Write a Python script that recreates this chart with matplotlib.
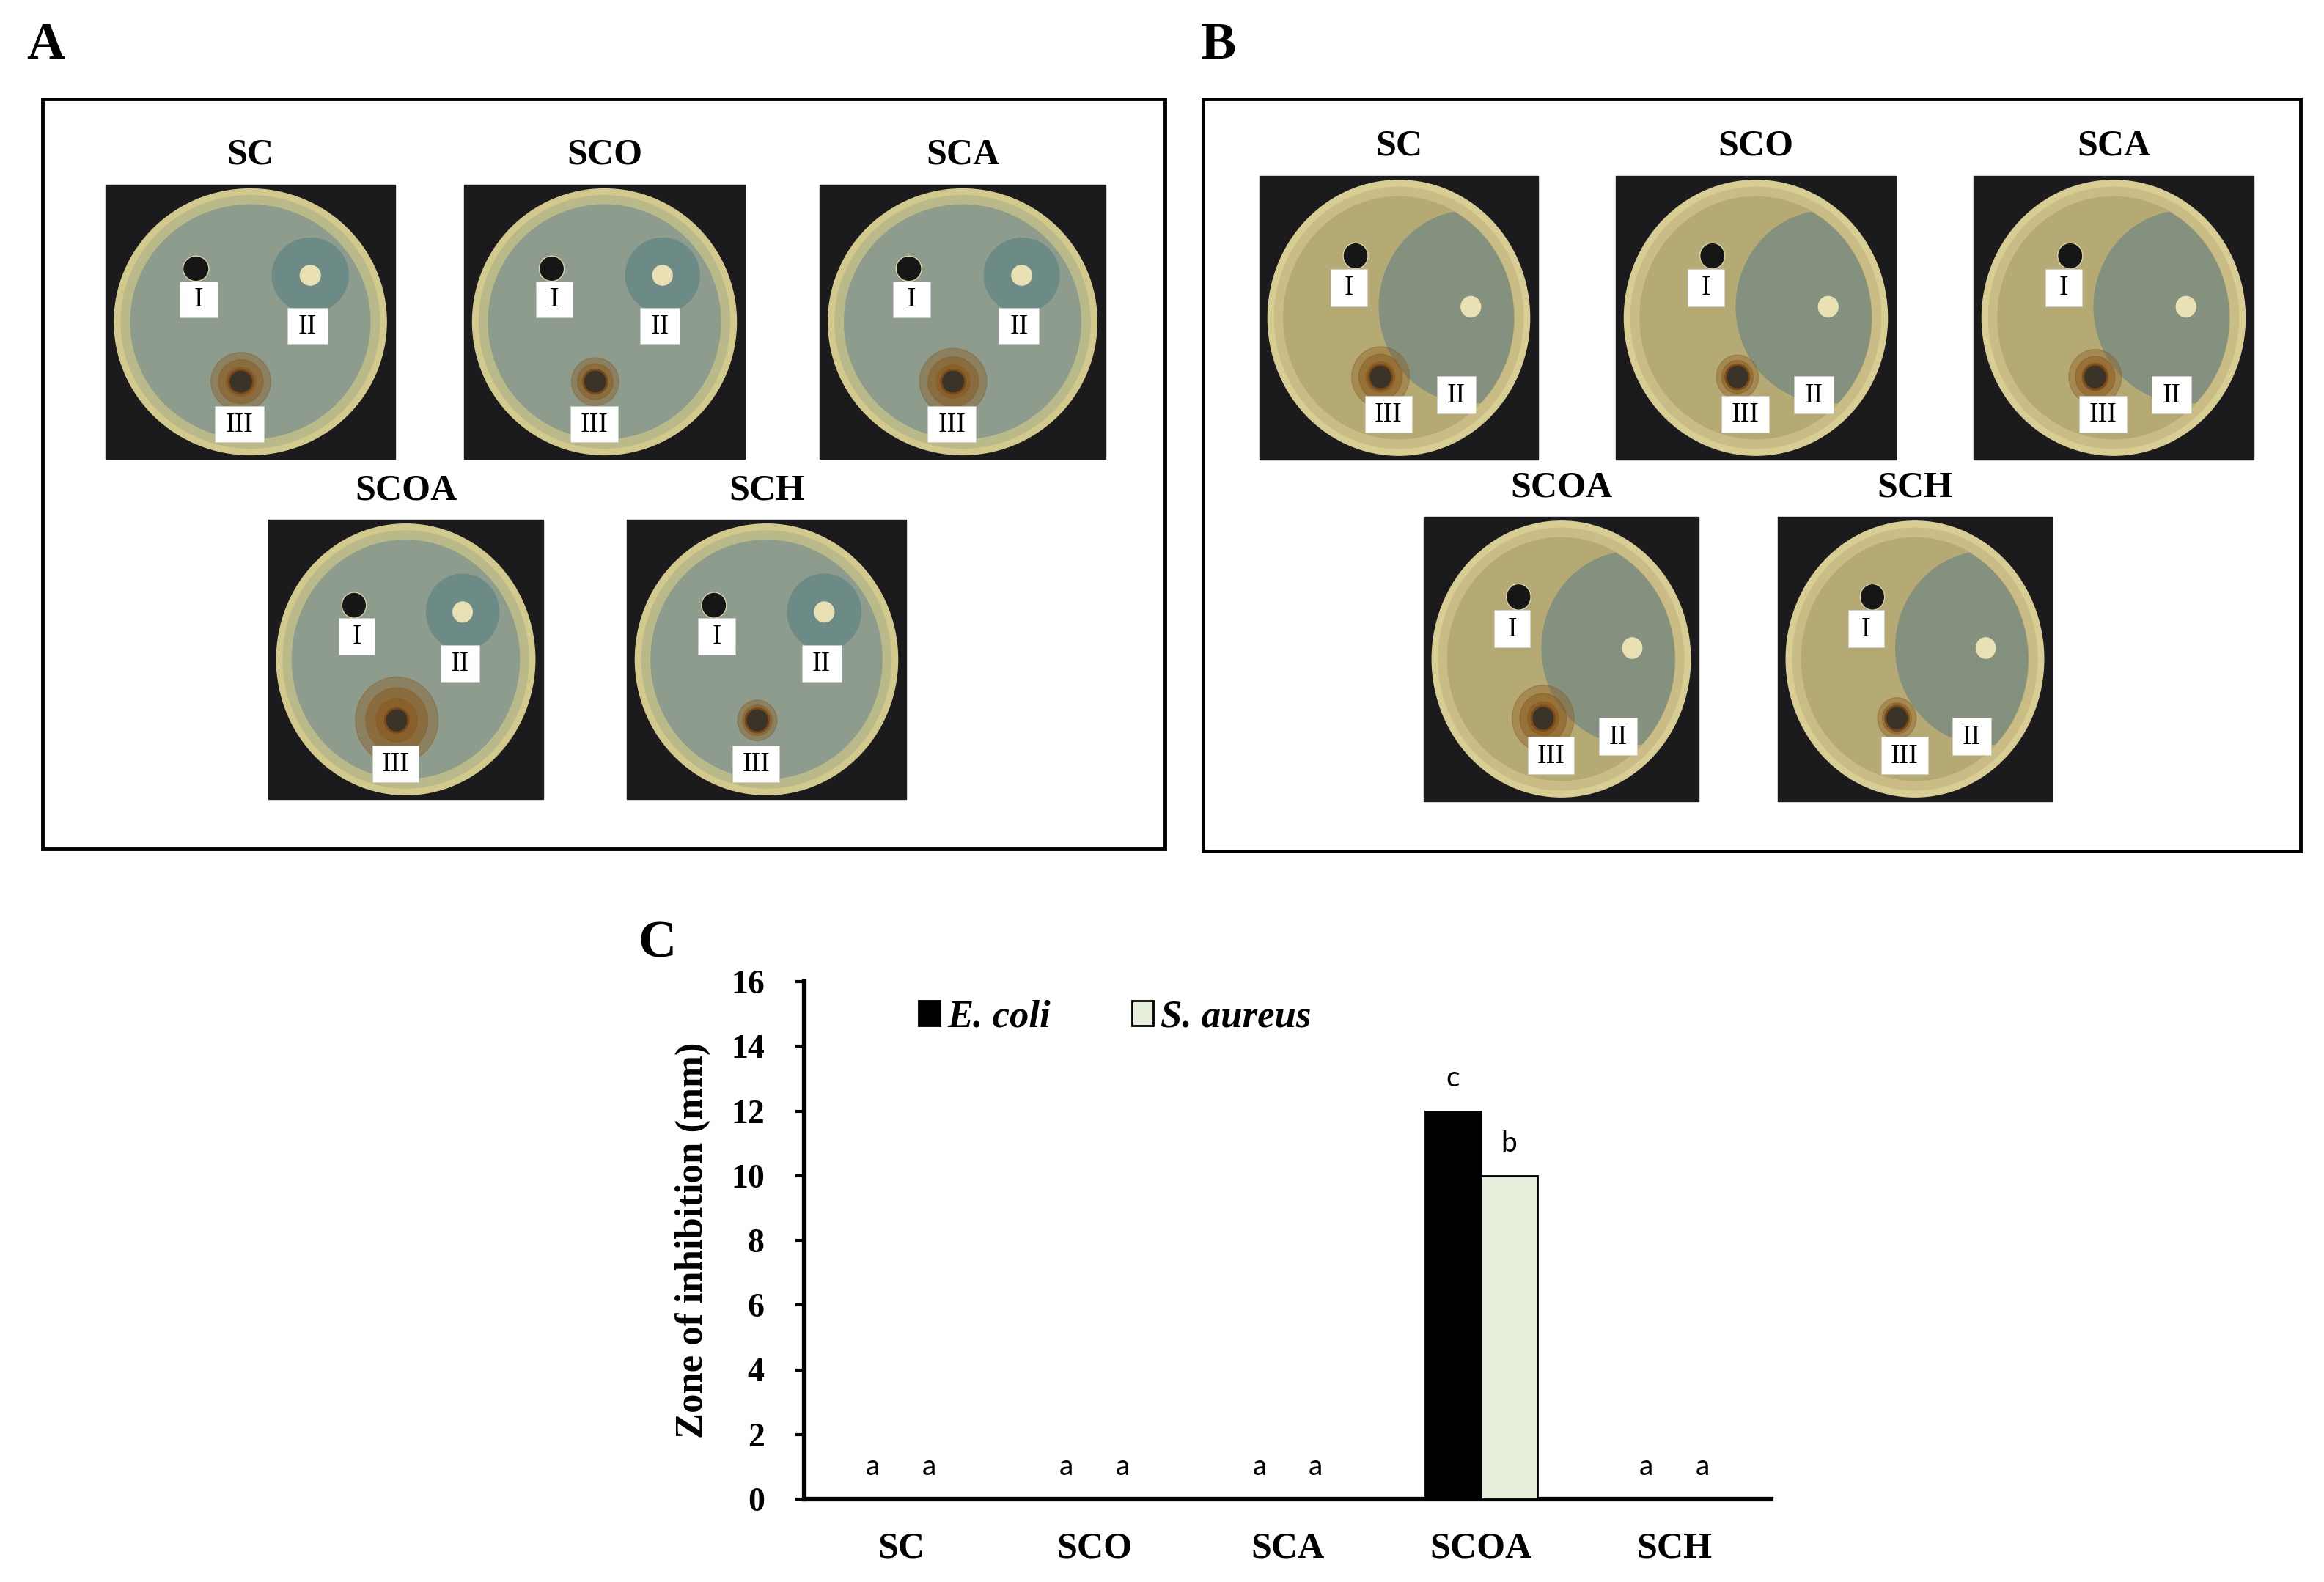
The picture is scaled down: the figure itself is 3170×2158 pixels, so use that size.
"""Antibacterial activity figure: disc-diffusion plates (A, B) and
zone of inhibition bar chart (C)."""

import matplotlib
matplotlib.use("Agg")
import matplotlib.pyplot as plt
from matplotlib.patches import Rectangle, Ellipse, Patch
import numpy as np

plt.rcParams["font.family"] = ["Liberation Serif", "DejaVu Serif"]

# ---- data -------------------------------------------------------------
samples = ["SC", "SCO", "SCA", "SCOA", "SCH"]
ecoli = [0, 0, 0, 12, 0]
saureus = [0, 0, 0, 10, 0]
ecoli_letters = ["a", "a", "a", "c", "a"]
saureus_letters = ["a", "a", "a", "b", "a"]
series_names = ["E. coli", "S. aureus"]
series_colors = ["#000000", "#E6EEDC"]
yticks = [0, 2, 4, 6, 8, 10, 12, 14, 16]

# relative size of the brown halo around well III on each plate
halo_a = [0.22, 0.18, 0.25, 0.32, 0.15]
halo_b = [0.22, 0.16, 0.20, 0.24, 0.15]

W, H = 3170, 2158
fig = plt.figure(figsize=(W / 100, H / 100), dpi=100)

# overlay in pixel coordinates for the photo panels
ov = fig.add_axes([0, 0, 1, 1])
ov.set_xlim(0, W)
ov.set_ylim(H, 0)
ov.axis("off")


def label_box(ax, x, y, txt, rx, ry):
    bw = rx * {1: 0.28, 2: 0.30, 3: 0.36}[len(txt)]
    bh = ry * 0.27
    ax.add_patch(Rectangle((x - bw / 2, y - bh / 2), bw, bh, facecolor="white",
                           edgecolor="#cccccc", lw=0.5, zorder=6))
    ax.text(x, y + 1, txt, ha="center", va="center", fontsize=27, zorder=7)


def draw_plate(ax, box, panel, halo):
    x0, x1, y0, y1 = box
    w, h = x1 - x0, y1 - y0
    cx, cy = (x0 + x1) / 2, (y0 + y1) / 2
    rx, ry = w * 0.47, h * 0.485
    ax.add_patch(Rectangle((x0, y0), w, h, color="#1b1b1d", zorder=1))

    def P(u, v):
        return cx + u * rx, cy + v * ry

    if panel == "A":
        rim_c, agar_c, zone_c, edge_c = "#d2c98c", "#8d9c8c", "#6c8a86", "#b9b98a"
    else:
        rim_c, agar_c, zone_c, edge_c = "#d8cd93", "#b6aa74", "#84917f", "#c9bd85"

    ax.add_patch(Ellipse((cx, cy), 2 * rx, 2 * ry, color=rim_c, zorder=2))
    ax.add_patch(Ellipse((cx, cy), 2 * rx * 0.95, 2 * ry * 0.95, color=edge_c, zorder=2))
    agar = Ellipse((cx, cy), 2 * rx * 0.88, 2 * ry * 0.88, color=agar_c, zorder=2)
    ax.add_patch(agar)

    if panel == "A":
        hole_i, lab_i = (-0.40, -0.40), (-0.38, -0.17)
        zone, zr = (0.44, -0.35), 0.28
        lab_ii = (0.42, 0.03)
        hole_iii, lab_iii = (-0.07, 0.45), (-0.08, 0.77)
    else:
        hole_i, lab_i = (-0.33, -0.45), (-0.38, -0.22)
        zone, zr = (0.55, -0.08), 0.70
        lab_ii = (0.44, 0.56)
        hole_iii, lab_iii = (-0.14, 0.43), (-0.08, 0.70)

    # clear zone around antibiotic disc (II)
    zx, zy = P(*zone)
    z = Ellipse((zx, zy), 2 * zr * rx, 2 * zr * ry, color=zone_c, zorder=3)
    ax.add_patch(z)
    z.set_clip_path(agar)
    ax.add_patch(Ellipse((zx, zy), 0.15 * rx, 0.15 * ry, color="#e9e1b4", zorder=4))

    # empty well (I)
    ix, iy = P(*hole_i)
    ax.add_patch(Ellipse((ix, iy), 0.19 * rx, 0.19 * ry, facecolor="#161616",
                         edgecolor="#d9d3a6", lw=1, zorder=4))

    # sample well (III) with brown halo
    hx, hy = P(*hole_iii)
    for k, a in zip([1.0, 0.75, 0.5], [0.4, 0.5, 0.65]):
        ax.add_patch(Ellipse((hx, hy), 2 * halo * k * rx, 2 * halo * k * ry,
                             color="#8a5a1f", alpha=a, zorder=4))
    ax.add_patch(Ellipse((hx, hy), 0.18 * rx, 0.18 * ry, facecolor="#3a3327",
                         edgecolor="#7a4a18", lw=2, zorder=5))

    label_box(ax, *P(*lab_i), "I", rx, ry)
    label_box(ax, *P(*lab_ii), "II", rx, ry)
    label_box(ax, *P(*lab_iii), "III", rx, ry)


# panel A
ov.text(36, 62, "A", fontsize=52, fontweight="bold", va="center", ha="left")
ov.add_patch(Rectangle((58, 135), 1531, 1023, fill=False, lw=3.5, ec="black"))
boxes_a = [(144, 539, 252, 626), (633, 1016, 252, 626), (1118, 1508, 252, 626),
           (366, 741, 709, 1090), (855, 1236, 709, 1090)]
for name, bx, hl in zip(samples, boxes_a, halo_a):
    ov.text((bx[0] + bx[1]) / 2, bx[2] - 40, name, fontsize=36,
            fontweight="bold", ha="center", va="center")
    draw_plate(ov, bx, "A", hl)

# panel B
ov.text(1638, 62, "B", fontsize=52, fontweight="bold", va="center", ha="left")
ov.add_patch(Rectangle((1641, 135), 1497, 1026, fill=False, lw=3.5, ec="black"))
boxes_b = [(1718, 2098, 240, 627), (2204, 2586, 240, 627), (2692, 3074, 240, 627),
           (1942, 2317, 705, 1093), (2425, 2799, 705, 1093)]
for name, bx, hl in zip(samples, boxes_b, halo_b):
    ov.text((bx[0] + bx[1]) / 2, bx[2] - 40, name, fontsize=36,
            fontweight="bold", ha="center", va="center")
    draw_plate(ov, bx, "B", hl)

# panel C
ov.text(870, 1288, "C", fontsize=52, fontweight="bold", va="center", ha="left")

ax = fig.add_axes([1097 / W, 1 - 2045 / H, (2416 - 1097) / W, (2045 - 1339) / H])
x = np.arange(len(samples))
bw = 0.29
ax.bar(x - bw / 2, ecoli, bw, color=series_colors[0], edgecolor="black", lw=2, zorder=3)
ax.bar(x + bw / 2, saureus, bw, color=series_colors[1], edgecolor="black", lw=2, zorder=3)
for i in range(len(samples)):
    ax.text(x[i] - bw / 2, ecoli[i] + 1.0, ecoli_letters[i], ha="center",
            va="center", fontsize=28, family=["Lato", "DejaVu Sans"])
    ax.text(x[i] + bw / 2, saureus[i] + 1.0, saureus_letters[i], ha="center",
            va="center", fontsize=28, family=["Lato", "DejaVu Sans"])

ax.set_xlim(-0.5, len(samples) - 0.5)
ax.set_ylim(0, 16)
ax.set_yticks(yticks)
ax.set_xticks(x)
ax.set_xticklabels(samples, fontsize=36, fontweight="bold")
ax.tick_params(axis="x", length=0, pad=32)
ax.tick_params(axis="y", length=9, width=3, pad=30, labelsize=33)
for t in ax.get_yticklabels():
    t.set_fontweight("bold")
for s in ["top", "right"]:
    ax.spines[s].set_visible(False)
ax.spines["left"].set_linewidth(4.5)
ax.spines["bottom"].set_linewidth(4.5)
ax.set_ylabel("Zone of inhibition (mm)", fontsize=38, fontweight="bold", labelpad=20)

handles = [Patch(facecolor=c, edgecolor="black", lw=2) for c in series_colors]
ax.legend(handles, series_names, loc="center left", bbox_to_anchor=(0.118, 0.931),
          ncol=2, frameon=False, handlelength=0.55, handleheight=0.6,
          handletextpad=0.2, columnspacing=2.1, borderpad=0, borderaxespad=0,
          prop={"size": 38, "weight": "bold", "style": "italic"})

fig.savefig("out.png", dpi=100)
